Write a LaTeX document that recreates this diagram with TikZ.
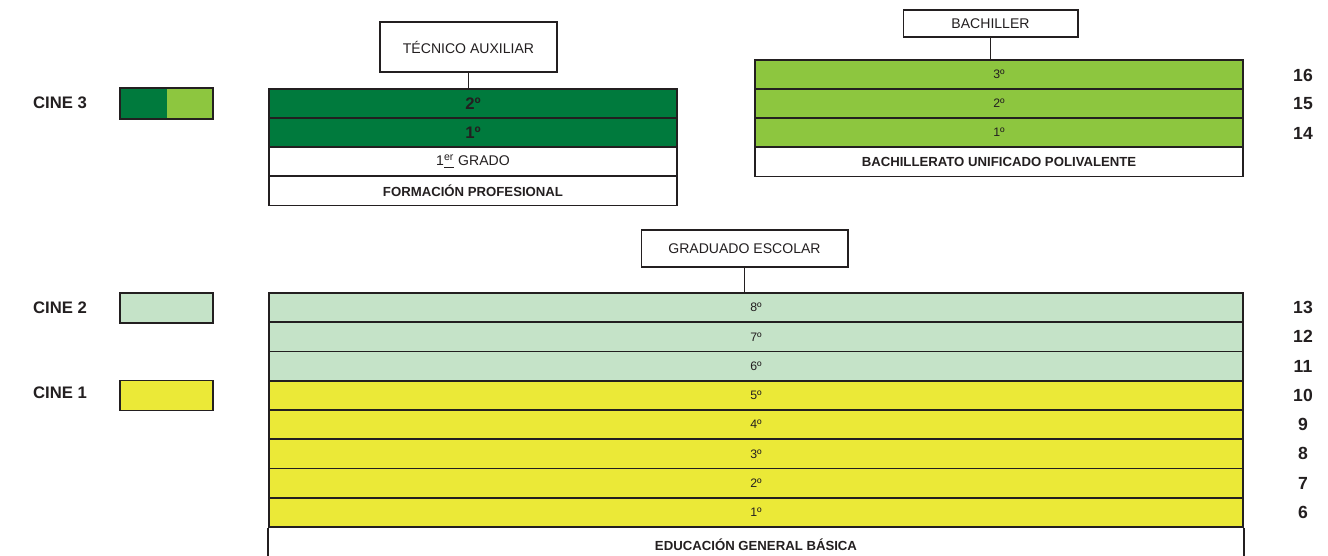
\documentclass[tikz,border=0pt]{standalone}
\usepackage{fontspec}
\setmainfont{Liberation Sans}
\usetikzlibrary{positioning,calc}

\definecolor{cinetres}{RGB}{0,122,61}
\definecolor{bupverde}{RGB}{141,198,63}
\definecolor{cinedos}{RGB}{197,227,200}
\definecolor{cineuno}{RGB}{235,233,55}
\definecolor{texto}{RGB}{35,31,32}

\tikzset{
  curso/.style={draw=texto, line width=1pt, inner sep=0pt, minimum height=0.58cm,
    text=texto, font=\fontsize{7}{8}\selectfont},
  titulo/.style={draw=texto, line width=0.6pt, fill=white, inner sep=0pt,
    text=texto, font=\fontsize{8}{9}\selectfont},
  leyenda/.style={inner sep=0pt, minimum width=1.86cm, minimum height=0.6cm},
  cine/.style={text=texto, font=\bfseries\fontsize{9.5}{11}\selectfont},
  edad/.style={text=texto, font=\bfseries\fontsize{10}{12}\selectfont},
  nivel/.style={text=texto, font=\bfseries\fontsize{7.5}{9}\selectfont},
  conector/.style={draw=texto, line width=0.7pt}
}

\begin{document}
\begin{tikzpicture}[x=0.02cm,y=-0.02cm]
  \useasboundingbox (0,0) rectangle (1328,555);

  % leyenda
  \node[cine] (cine3) at (60,103) {CINE 3};
  \node[cine] (cine2) at (60,308) {CINE 2};
  \node[cine] (cine1) at (60,393) {CINE 1};
  \node[leyenda, fill=cinetres] (ley3) at (166.5,103.5) {};
  \fill[bupverde] (ley3.north) rectangle (ley3.south east);
  \draw[texto, line width=1pt] (ley3.north west) rectangle (ley3.south east);
  \node[leyenda, draw=texto, line width=1pt, fill=cinedos] (ley2) at (166.5,308) {};
  \node[leyenda, draw=texto, line width=1pt, fill=cineuno] (ley1) at (166.5,395.5) {};

  % formacion profesional
  \node[curso, fill=cinetres, minimum width=8.16cm, font=\bfseries\fontsize{9.5}{11}\selectfont] (fp2) at (473,103.5) {2º};
  \node[curso, fill=cinetres, minimum width=8.16cm, font=\bfseries\fontsize{9.5}{11}\selectfont] (fp1) at (473,132.5) {1º};
  \node[curso, fill=white, minimum width=8.16cm, font=\fontsize{8}{9}\selectfont] (grado) at (473,161.5) {1\underline{\textsuperscript{er}} GRADO};
  \node[curso, fill=white, minimum width=8.16cm, nivel] (fp) at (473,191) {FORMACIÓN PROFESIONAL};
  \node[titulo, minimum width=3.54cm, minimum height=1cm] (tec) at (468.5,47) {TÉCNICO AUXILIAR};
  \draw[conector] (tec.south) -- (tec.south |- fp2.north);

  % bachillerato
  \node[curso, fill=bupverde, minimum width=9.76cm] (bup3) at (999,74.5) {3º};
  \node[curso, fill=bupverde, minimum width=9.76cm] (bup2) at (999,103.5) {2º};
  \node[curso, fill=bupverde, minimum width=9.76cm] (bup1) at (999,132.5) {1º};
  \node[curso, fill=white, minimum width=9.76cm, nivel] (bup) at (999,162) {BACHILLERATO UNIFICADO POLIVALENTE};
  \node[titulo, minimum width=3.5cm, minimum height=0.54cm] (bach) at (990.5,23.5) {BACHILLER};
  \draw[conector] (bach.south) -- (bach.south |- bup3.north);
  \node[edad] (edad16) at (1303,75) {16};
  \node[edad] (edad15) at (1303,104) {15};
  \node[edad] (edad14) at (1303,133) {14};

  % egb
  \foreach \cur/\col/\ed [count=\i from 0] in {8/cinedos/13,7/cinedos/12,6/cinedos/11,
      5/cineuno/10,4/cineuno/9,3/cineuno/8,2/cineuno/7,1/cineuno/6}
  {
    \node[curso, fill=\col, minimum width=19.48cm, minimum height=0.585cm] (egb\cur) at (756,{307.6+29.25*\i}) {\cur º};
    \node[edad] (edad\ed) at (1303,{307.6+29.25*\i}) {\ed};
  }
  \node[nivel] (egb) at (756,545) {EDUCACIÓN GENERAL BÁSICA};
  \draw[texto, line width=1pt] (egb1.south west) -- ++(0,40);
  \draw[texto, line width=1pt] (egb1.south east) -- ++(0,40);
  \node[titulo, minimum width=4.14cm, minimum height=0.74cm] (grad) at (744.5,248.5) {GRADUADO ESCOLAR};
  \draw[conector] (grad.south) -- (grad.south |- egb8.north);
\end{tikzpicture}
\end{document}
